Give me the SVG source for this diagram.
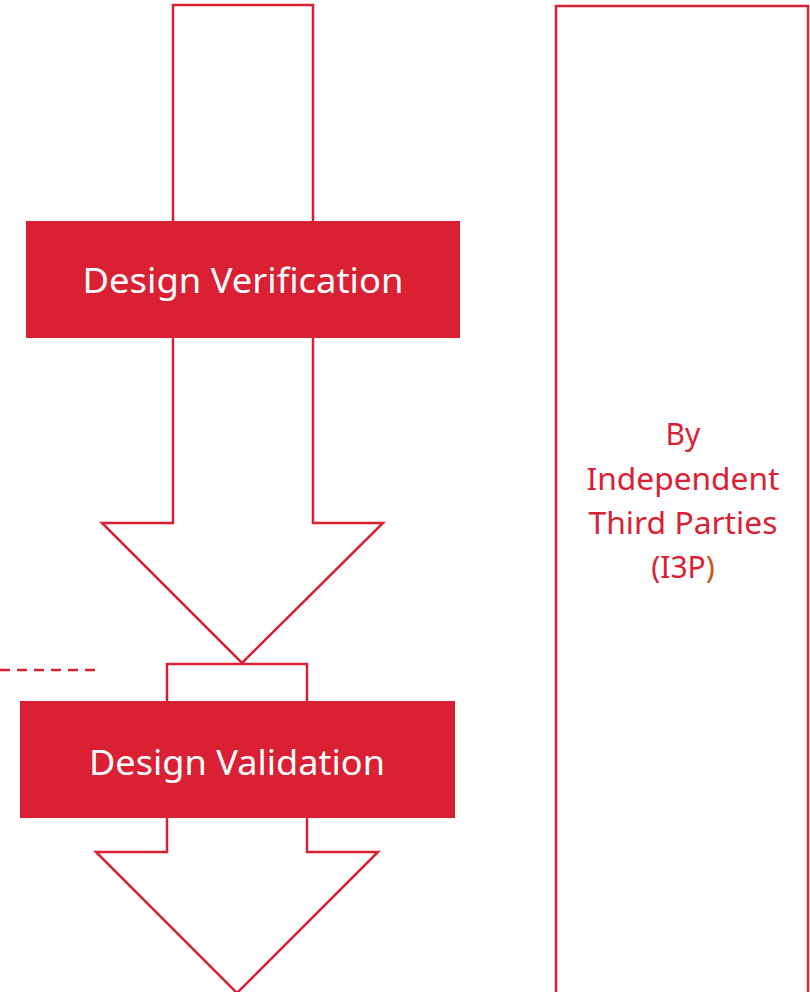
<svg xmlns="http://www.w3.org/2000/svg" width="810" height="992" viewBox="0 0 810 992">
<style>
.arrow{fill:#fff;stroke:#DA2033;stroke-width:2.5;stroke-linejoin:miter}
.box{fill:#DA2033}
.wt{fill:#fff;font-family:"Noto Sans","Open Sans",sans-serif;font-size:35px;text-anchor:middle}
.rt{fill:#DA2033;font-family:"Noto Sans","Open Sans",sans-serif;font-size:30px;text-anchor:middle}
</style>
<rect width="810" height="992" fill="#fff"/>
<g id="connectors">
<polygon class="arrow" points="173,5 313,5 313,523 383,523 242,663 102,523 173,523"/>
<polygon class="arrow" points="167,664 307,664 307,852 378,852 237,993 96,852 167,852"/>
<line x1="0" y1="670" x2="97" y2="670" stroke="#DA2033" stroke-width="2.5" stroke-dasharray="10,7"/>
</g>
<g id="design-verification">
<rect class="box" x="26" y="221" width="434" height="117"/>
<text class="wt" x="243" y="293" textLength="321" lengthAdjust="spacingAndGlyphs">Design Verification</text>
</g>
<g id="design-validation">
<rect class="box" x="20" y="701" width="435" height="117"/>
<text class="wt" x="237" y="775" textLength="296" lengthAdjust="spacingAndGlyphs">Design Validation</text>
</g>
<g id="i3p">
<rect x="556" y="6" width="252" height="1000" fill="none" stroke="#DA2033" stroke-width="2.5"/>
<text class="rt" x="683" y="445">By</text>
<text class="rt" x="683" y="490" textLength="193" lengthAdjust="spacingAndGlyphs">Independent</text>
<text class="rt" x="683" y="534" textLength="189" lengthAdjust="spacingAndGlyphs">Third Parties</text>
<text class="rt" x="683" y="578">(I3P<tspan fill="#C55A11">)</tspan></text>
</g>
</svg>
